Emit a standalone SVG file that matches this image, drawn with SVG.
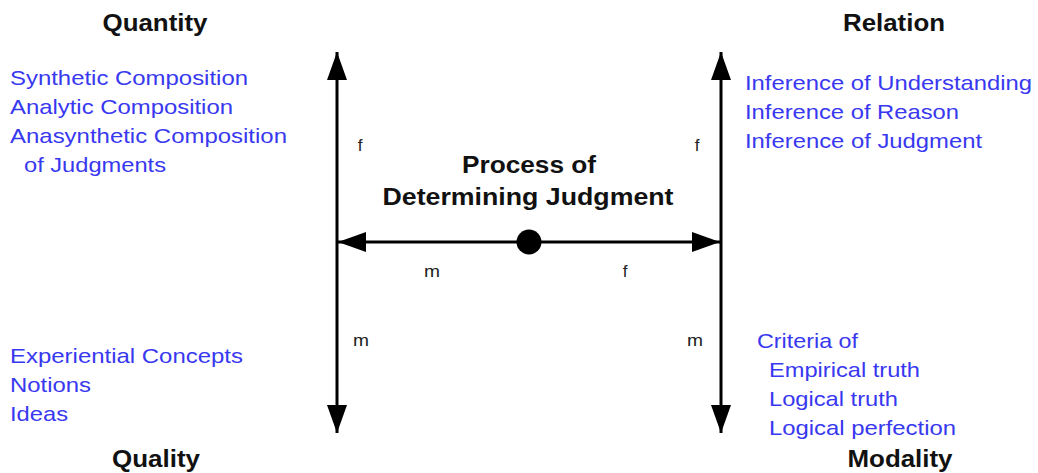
<svg xmlns="http://www.w3.org/2000/svg" width="1038" height="473" viewBox="0 0 1038 473">
<style>
text{font-family:"Liberation Sans",Arial,sans-serif}
.h{font-weight:bold;font-size:23px;fill:#111;text-anchor:middle}
.b{font-size:21px;fill:#3838f0}
.l{font-size:17px;fill:#222;text-anchor:middle}
.ln{stroke:#000;stroke-width:3;fill:none}
</style>
<defs>
<marker id="ah" viewBox="0 0 10 10" refX="10" refY="5" markerUnits="userSpaceOnUse" markerWidth="28" markerHeight="20" orient="auto" preserveAspectRatio="none">
<path d="M0,0 L10,5 L0,10 z" fill="#000"/>
</marker>
</defs>
<rect width="1038" height="473" fill="#fff"/>
<g id="connectors">
<line class="ln" x1="337" y1="242" x2="337" y2="52" marker-end="url(#ah)"/>
<line class="ln" x1="337" y1="242" x2="337" y2="433" marker-end="url(#ah)"/>
<line class="ln" x1="721" y1="242" x2="721" y2="52" marker-end="url(#ah)"/>
<line class="ln" x1="721" y1="242" x2="721" y2="433" marker-end="url(#ah)"/>
<line class="ln" x1="529" y1="242" x2="338" y2="242" marker-end="url(#ah)"/>
<line class="ln" x1="529" y1="242" x2="720" y2="242" marker-end="url(#ah)"/>
<text class="l" x="360" y="151">f</text>
<text class="l" x="697" y="151">f</text>
<text class="l" x="361" y="346" textLength="16" lengthAdjust="spacingAndGlyphs">m</text>
<text class="l" x="695" y="346" textLength="16" lengthAdjust="spacingAndGlyphs">m</text>
<text class="l" x="432" y="277" textLength="16" lengthAdjust="spacingAndGlyphs">m</text>
<text class="l" x="625" y="277">f</text>
</g>
<g id="center">
<circle cx="529" cy="242" r="12.5" fill="#000"/>
<text class="h" x="529" y="173" textLength="134" lengthAdjust="spacingAndGlyphs">Process of</text>
<text class="h" x="528" y="205" textLength="291" lengthAdjust="spacingAndGlyphs">Determining Judgment</text>
</g>
<g id="quantity">
<text class="h" x="155" y="31" textLength="105" lengthAdjust="spacingAndGlyphs">Quantity</text>
<text class="b" x="10" y="85" textLength="238" lengthAdjust="spacingAndGlyphs">Synthetic Composition</text>
<text class="b" x="10" y="114" textLength="223" lengthAdjust="spacingAndGlyphs">Analytic Composition</text>
<text class="b" x="10" y="143" textLength="277" lengthAdjust="spacingAndGlyphs">Anasynthetic Composition</text>
<text class="b" x="24" y="172" textLength="142" lengthAdjust="spacingAndGlyphs">of Judgments</text>
</g>
<g id="relation">
<text class="h" x="894" y="31" textLength="102" lengthAdjust="spacingAndGlyphs">Relation</text>
<text class="b" x="745" y="90" textLength="287" lengthAdjust="spacingAndGlyphs">Inference of Understanding</text>
<text class="b" x="745" y="119" textLength="214" lengthAdjust="spacingAndGlyphs">Inference of Reason</text>
<text class="b" x="745" y="148" textLength="237" lengthAdjust="spacingAndGlyphs">Inference of Judgment</text>
</g>
<g id="quality">
<text class="h" x="156" y="467" textLength="88" lengthAdjust="spacingAndGlyphs">Quality</text>
<text class="b" x="10" y="363" textLength="233" lengthAdjust="spacingAndGlyphs">Experiential Concepts</text>
<text class="b" x="10" y="392" textLength="81" lengthAdjust="spacingAndGlyphs">Notions</text>
<text class="b" x="10" y="421" textLength="58" lengthAdjust="spacingAndGlyphs">Ideas</text>
</g>
<g id="modality">
<text class="h" x="900" y="467" textLength="105" lengthAdjust="spacingAndGlyphs">Modality</text>
<text class="b" x="757" y="348" textLength="101" lengthAdjust="spacingAndGlyphs">Criteria of</text>
<text class="b" x="769" y="377" textLength="151" lengthAdjust="spacingAndGlyphs">Empirical truth</text>
<text class="b" x="769" y="406" textLength="129" lengthAdjust="spacingAndGlyphs">Logical truth</text>
<text class="b" x="769" y="435" textLength="187" lengthAdjust="spacingAndGlyphs">Logical perfection</text>
</g>
</svg>
